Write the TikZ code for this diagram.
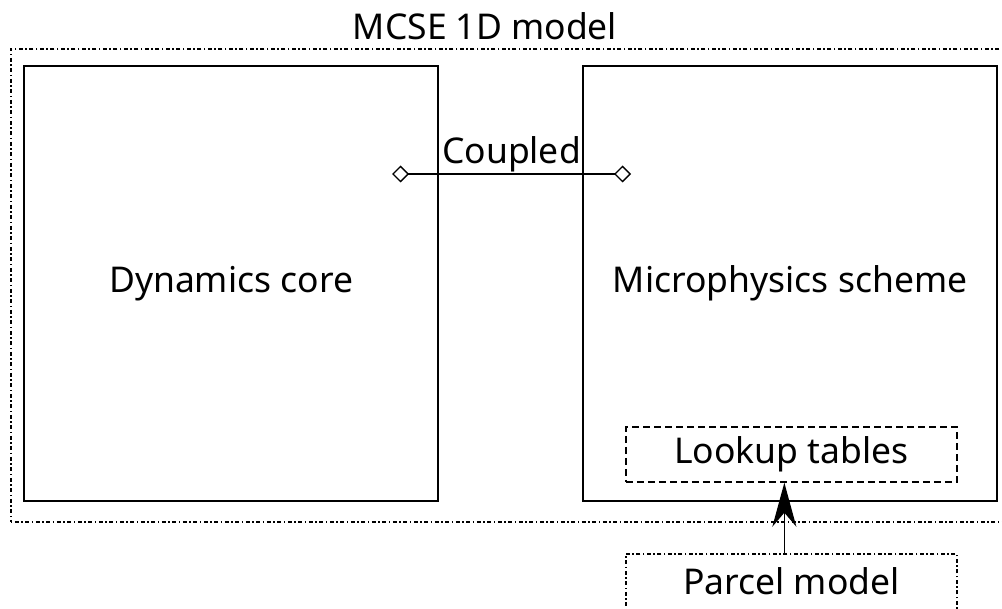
\documentclass[tikz,border=0pt]{standalone}
\usepackage{fontspec}
\setmainfont{Noto Sans}
\usetikzlibrary{arrows.meta}
\begin{document}
\begin{tikzpicture}[x=1pt,y=-1pt,
  every node/.style={font=\fontsize{35.5}{40}\selectfont, inner sep=0pt},
  bigbox/.style={draw, line width=2.2pt, minimum width=414pt, minimum height=435pt, anchor=north west},
  outerbox/.style={draw, line width=1.7pt, dash pattern=on 1.5pt off 2.5pt on 4pt off 2.5pt, anchor=north west},
  smallbox/.style={draw, line width=1.7pt, minimum width=331pt, minimum height=55pt, anchor=north west},
  couple/.style={line width=1.3pt, {Diamond[open,length=17pt,width=17pt]}-{Diamond[open,length=17pt,width=17pt]}},
  feed/.style={line width=1.3pt, -{Stealth[length=44pt,width=24pt,inset=14pt]}}
]
\useasboundingbox (0,0) rectangle (1002,609);
\clip (0,0) rectangle (1002,609);
\node[outerbox, minimum width=1000pt, minimum height=473pt] (model) at (10,48) {};
\node (title) at (485,26) {MCSE 1D model};
\node[bigbox] (dyn) at (23,65) {};
\node at (dyn.center) {Dynamics core};
\node[bigbox] (micro) at (582,65) {};
\node at (micro.center) {Microphysics scheme};
\node[smallbox, dashed, dash pattern=on 7pt off 4pt] (lookup) at (625,426) {};
\node at (lookup.center) {Lookup tables};
\node[smallbox, dash pattern=on 1.5pt off 2.5pt on 4pt off 2.5pt, minimum height=60pt] (parcel) at (625,553) {};
\node at ([yshift=-28pt]parcel.north) {Parcel model};
\coordinate (cL) at (392,174);
\coordinate (cR) at (631,174);
\draw[couple] (cL) -- node[above=1pt] {Coupled} (cR);
\draw[feed] ([xshift=-7pt]parcel.north) -- ([xshift=-7pt]lookup.south);
\end{tikzpicture}
\end{document}
